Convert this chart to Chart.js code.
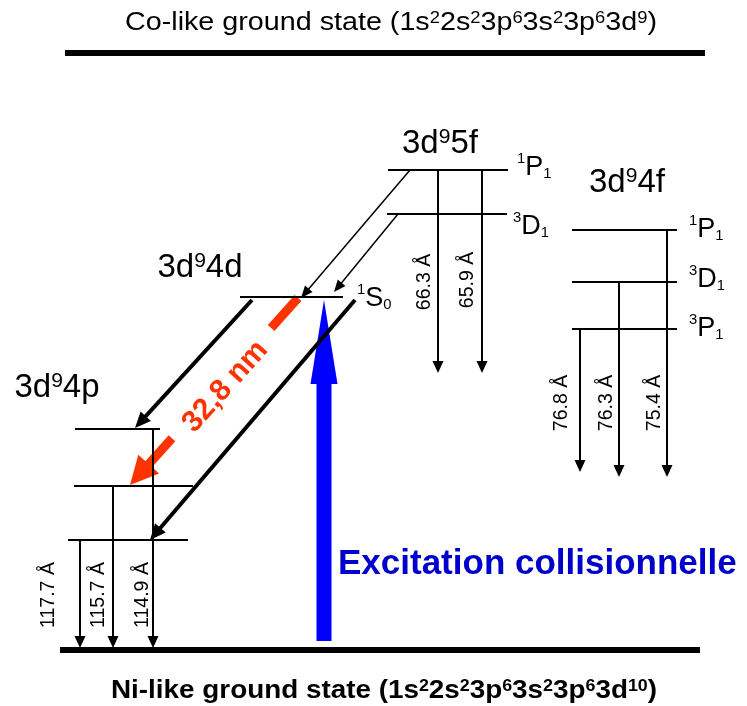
<!DOCTYPE html>
<html>
<head>
<meta charset="utf-8">
<script src="https://cdn.jsdelivr.net/npm/chart.js@4.4.0/dist/chart.umd.min.js"></script>
<style>
  html, body { margin: 0; padding: 0; background: #fff; }
  #wrap { width: 747px; height: 706px; position: relative; }
</style>
</head>
<body>
<div id="wrap"><canvas id="levels"></canvas></div>
<script>
// Schematic energy level diagram, Ni-like ion X-ray laser scheme.
// x = horizontal placement, E = schematic energy (up = higher), same units as the axes.

// ground states [x start, x end, E]
const groundLevels = [[60, 700, 56], [65, 705, 653]];
const groundNames = [
    'Ni-like ground state (1s^{2}2s^{2}3p^{6}3s^{2}3p^{6}3d^{10})',
    'Co-like ground state (1s^{2}2s^{2}3p^{6}3s^{2}3p^{6}3d^{9})'
];

// excited configurations
const configs = ['3d^{9}5f', '3d^{9}4f', '3d^{9}4d', '3d^{9}4p'];
const levels5f = [[388, 508, 536], [387, 507, 492]];
const terms5f = ['^{1}P_{1}', '^{3}D_{1}'];
const levels4f = [[572, 677, 476], [572, 677, 424], [572, 677, 377]];
const terms4f = ['^{1}P_{1}', '^{3}D_{1}', '^{3}P_{1}'];
const levels4d = [[240, 343, 409]];
const terms4d = ['^{1}S_{0}'];
const levels4p = [[75, 160, 277], [74, 193, 220], [68, 188, 166]];

// radiative decays (vertical arrows)
const wavelengths = ['66.3 Å', '65.9 Å', '76.8 Å', '76.3 Å', '75.4 Å', '117.7 Å', '115.7 Å', '114.9 Å'];
const decayX = [438, 482, 580, 619, 667, 80, 113, 153];
const decayFrom = [536, 536, 377, 424, 476, 166, 220, 277];
const decayTo = [333, 333, 234, 229, 229, 58, 58, 58];

// cascades 3d95f -> 3d94d and 3d94d -> 3d94p  [x1, E1, x2, E2]
const cascades = [[410, 536, 301, 408], [398, 492, 334, 414]];
const feeding = [[252, 406, 135, 278], [355, 406, 150, 166]];

// lasing transition and collisional pumping
const laser = [[298, 408], [130, 221]];
const laserLabel = '32,8 nm';
const pump = [[324, 65], [324, 406]];
const pumpLabel = 'Excitation collisionnelle';

// ---- label placement (layout only) ----
const configPos = [[440, 565], [627, 526], [200, 441], [57, 321]];
const termPos5f = [[517, 541], [513, 482]];
const termPos4f = [[689, 479], [689, 429], [689, 380]];
const termPos4d = [[357, 410]];
const wavePos = [[423, 424], [466, 426], [560, 303], [605, 303], [653, 303], [47, 111], [97, 111], [141, 111]];
const groundPos = [[384, 17, 546], [391, 685, 532]];
const laserGap = [0.16, 0.75];

const FONT = '"Liberation Sans", Arial, sans-serif';

const seg = (a, b, style) => Object.assign({
    data: [{x: a[0], y: a[1]}, {x: b[0], y: b[1]}],
    showLine: true,
    pointRadius: 0,
    borderColor: '#000',
    borderWidth: 2,
    borderCapStyle: 'butt',
    fill: false,
    order: 0
}, style);

const lerp = (a, b, t) => [a[0] + (b[0] - a[0]) * t, a[1] + (b[1] - a[1]) * t];

const datasets = [];

groundLevels.forEach(l => datasets.push(seg([l[0], l[2]], [l[1], l[2]], {borderWidth: 6})));
[levels5f, levels4f, levels4d, levels4p].forEach(group => {
    group.forEach(l => datasets.push(seg([l[0], l[2]], [l[1], l[2]])));
});

decayX.forEach((x, i) => {
    datasets.push(seg([x, decayFrom[i]], [x, decayTo[i]], {head: {len: 12, width: 11}}));
});

cascades.forEach(c => datasets.push(seg([c[0], c[1]], [c[2], c[3]], {borderWidth: 1.5, head: {len: 12, width: 10}})));
feeding.forEach(c => datasets.push(seg([c[0], c[1]], [c[2], c[3]], {borderWidth: 4, head: {len: 16, width: 14}})));

// red lasing line, broken around its label
datasets.push(seg(laser[0], lerp(laser[0], laser[1], laserGap[0]), {borderColor: '#FF3300', borderWidth: 9, order: 5}));
datasets.push(seg(lerp(laser[0], laser[1], laserGap[1]), laser[1], {borderColor: '#FF3300', borderWidth: 9, order: 5, head: {len: 28, width: 28}}));

datasets.push(seg(pump[0], pump[1], {borderColor: '#0000FF', borderWidth: 15, order: 10, head: {len: 84, width: 27}}));

// arrow heads: pull the shaft back and paint a filled triangle at the tip
const arrowHeads = {
    id: 'arrowHeads',
    afterDatasetsUpdate(chart) {
        chart.data.datasets.forEach((ds, i) => {
            if (!ds.head) return;
            const pts = chart.getDatasetMeta(i).data;
            const a = pts[pts.length - 2], b = pts[pts.length - 1];
            const dx = b.x - a.x, dy = b.y - a.y, len = Math.hypot(dx, dy);
            const ux = dx / len, uy = dy / len;
            ds._tip = {x: b.x, y: b.y, ux, uy};
            b.x -= ux * ds.head.len * 0.6;
            b.y -= uy * ds.head.len * 0.6;
        });
    },
    afterDatasetDraw(chart, args) {
        const ds = chart.data.datasets[args.index];
        if (!ds.head || !ds._tip) return;
        const {x, y, ux, uy} = ds._tip;
        const L = ds.head.len, W = ds.head.width / 2;
        const bx = x - ux * L, by = y - uy * L;
        const ctx = chart.ctx;
        ctx.save();
        ctx.beginPath();
        ctx.moveTo(x, y);
        ctx.lineTo(bx - uy * W, by + ux * W);
        ctx.lineTo(bx + uy * W, by - ux * W);
        ctx.closePath();
        ctx.fillStyle = ds.borderColor;
        ctx.fill();
        ctx.restore();
    }
};

function parseRich(s) {
    const parts = [];
    const re = /\^\{([^}]*)\}|_\{([^}]*)\}|([^^_]+)/g;
    let m;
    while ((m = re.exec(s))) {
        if (m[1] !== undefined) parts.push({t: m[1], k: 'sup'});
        else if (m[2] !== undefined) parts.push({t: m[2], k: 'sub'});
        else parts.push({t: m[3], k: 'n'});
    }
    return parts;
}

// y is the vertical middle of the capitals
function drawRich(ctx, s, x, y, o) {
    const parts = parseRich(s);
    const small = o.size * (o.small || 0.65);
    const font = sz => `${o.weight || 'normal'} ${sz}px ${FONT}`;
    const supDy = -(0.716 * (o.size - small) + o.size * (o.lift || 0.04));
    const subDy = o.size * (o.drop || 0.12);
    let w = 0;
    parts.forEach(p => {
        ctx.font = font(p.k === 'n' ? o.size : small);
        p.w = ctx.measureText(p.t).width;
        w += p.w;
    });
    ctx.save();
    ctx.translate(x, y);
    if (o.rotate) ctx.rotate(o.rotate);
    ctx.scale(o.fit ? o.fit / w : 1, 1);
    let cx = o.align === 'left' ? 0 : -w / 2;
    ctx.fillStyle = o.color || '#000';
    ctx.textBaseline = 'alphabetic';
    parts.forEach(p => {
        ctx.font = font(p.k === 'n' ? o.size : small);
        const dy = p.k === 'sup' ? supDy : p.k === 'sub' ? subDy : 0;
        ctx.fillText(p.t, cx, dy + o.size * 0.358);
        cx += p.w;
    });
    ctx.restore();
}

const labels = {
    id: 'labels',
    afterDraw(chart) {
        const ctx = chart.ctx;
        const sx = chart.scales.x, sy = chart.scales.y;
        const px = v => sx.getPixelForValue(v), py = v => sy.getPixelForValue(v);

        groundNames.forEach((t, i) => {
            const p = groundPos[i];
            drawRich(ctx, t, px(p[0]), py(p[1]), {size: 25, weight: i === 0 ? 'bold' : 'normal', fit: p[2], small: 0.64});
        });
        configs.forEach((t, i) => {
            drawRich(ctx, t, px(configPos[i][0]), py(configPos[i][1]), {size: 33, small: 0.64, lift: 0});
        });
        [[terms5f, termPos5f], [terms4f, termPos4f], [terms4d, termPos4d]].forEach(([terms, pos]) => {
            terms.forEach((t, i) => drawRich(ctx, t, px(pos[i][0]), py(pos[i][1]), {size: 27, align: 'left', small: 0.55, lift: 0.1}));
        });
        wavelengths.forEach((t, i) => {
            drawRich(ctx, t, px(wavePos[i][0]), py(wavePos[i][1]), {size: 19.5, rotate: -Math.PI / 2});
        });

        // lasing wavelength, written along the red arrow
        const a = [px(laser[0][0]), py(laser[0][1])], b = [px(laser[1][0]), py(laser[1][1])];
        const mid = lerp(a, b, (laserGap[0] + laserGap[1]) / 2);
        const ang = Math.atan2(a[1] - b[1], a[0] - b[0]);
        drawRich(ctx, laserLabel, mid[0] + 2, mid[1] + 2, {size: 30, weight: 'bold', color: '#FF3300', rotate: ang});

        drawRich(ctx, pumpLabel, px(338), py(145), {size: 35, weight: 'bold', color: '#0000CC', align: 'left'});
    }
};

new Chart(document.getElementById('levels'), {
    type: 'scatter',
    data: {datasets},
    options: {
        responsive: true,
        maintainAspectRatio: false,
        animation: false,
        events: [],
        layout: {padding: 0},
        plugins: {legend: {display: false}, tooltip: {enabled: false}},
        scales: {
            x: {type: 'linear', min: 0, max: 747, display: false},
            y: {type: 'linear', min: 0, max: 706, display: false}
        }
    },
    plugins: [arrowHeads, labels]
});
</script>
</body>
</html>
